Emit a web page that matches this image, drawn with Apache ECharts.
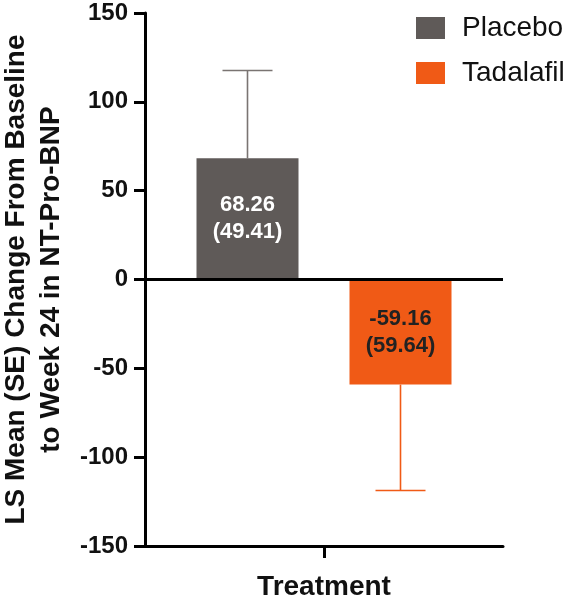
<!DOCTYPE html>
<html>
<head>
<meta charset="utf-8">
<script src="https://cdn.jsdelivr.net/npm/echarts@6/dist/echarts.min.js"></script>
<style>html,body{margin:0;padding:0;background:#fff}#c{width:566px;height:602px}</style>
</head>
<body>
<div id="c"></div>
<script>
const categories = ['Treatment'];
const seriesNames = ['Placebo', 'Tadalafil'];
const placeboMean = [68.26];
const placeboSE = [49.41];
const tadalafilMean = [-59.16];
const tadalafilSE = [59.64];
const yTicks = [-150, -100, -50, 0, 50, 100, 150];

const FONT = 'Liberation Sans';
const BAR_W = 102;
const GAP = 51;
const OFF = (BAR_W + GAP) / 2;
const CAP = 50;

function errSeries(name, means, ses, dir, color, off) {
  return {
    name: name + ' SE',
    type: 'custom',
    silent: true,
    z: 1,
    data: means.map((m, i) => [i, m, m + dir * ses[i]]),
    renderItem: function (params, api) {
      const p0 = api.coord([api.value(0), api.value(1)]);
      const p1 = api.coord([api.value(0), api.value(2)]);
      const x = p0[0] + off;
      return {
        type: 'group',
        children: [
          { type: 'line', shape: { x1: x, y1: p0[1], x2: x, y2: p1[1] }, style: { stroke: color, lineWidth: 1.6 } },
          { type: 'line', shape: { x1: x - CAP / 2, y1: p1[1], x2: x + CAP / 2, y2: p1[1] }, style: { stroke: color, lineWidth: 1.6 } }
        ]
      };
    }
  };
}

const chart = echarts.init(document.getElementById('c'));
chart.setOption({
  animation: false,
  backgroundColor: '#fff',
  textStyle: { fontFamily: FONT },
  grid: { left: 145, right: 63, top: 13, bottom: 56, containLabel: false, outerBoundsMode: 'none' },
  legend: {
    data: seriesNames,
    orient: 'vertical',
    left: 411,
    top: 8,
    itemWidth: 29,
    itemHeight: 22,
    itemGap: 15,
    icon: 'rect',
    textStyle: { fontSize: 28, color: '#111', fontFamily: FONT, padding: [0, 0, 0, 12], lineHeight: 30 }
  },
  xAxis: {
    type: 'category',
    data: categories,
    axisLine: { onZero: false, lineStyle: { color: '#000', width: 3 } },
    axisTick: { show: true, alignWithLabel: true, length: 12, lineStyle: { color: '#000', width: 3 } },
    axisLabel: { fontSize: 28, fontWeight: 'bold', color: '#111', margin: 27, fontFamily: FONT },
    splitLine: { show: false }
  },
  yAxis: {
    type: 'value',
    min: yTicks[0],
    max: yTicks[yTicks.length - 1],
    interval: 50,
    name: 'LS Mean (SE) Change From Baseline\nto Week 24 in NT-Pro-BNP',
    nameLocation: 'middle',
    nameRotate: 90,
    nameGap: 76,
    nameTextStyle: { fontSize: 28, fontWeight: 'bold', color: '#111', lineHeight: 35, fontFamily: FONT },
    axisLine: { show: true, lineStyle: { color: '#000', width: 3 } },
    axisTick: { show: true, length: 11, lineStyle: { color: '#000', width: 3 } },
    axisLabel: { fontSize: 24, fontWeight: 'bold', color: '#111', margin: 17, fontFamily: FONT },
    splitLine: { show: false }
  },
  series: [
    {
      name: seriesNames[0],
      type: 'bar',
      data: placeboMean,
      barWidth: BAR_W,
      barGap: '50%',
      z: 2,
      itemStyle: { color: '#5f5a58' },
      label: {
        show: true, position: 'inside', color: '#fff', fontSize: 22, fontWeight: 'bold', lineHeight: 27, fontFamily: FONT,
        formatter: p => p.value.toFixed(2) + '\n(' + placeboSE[p.dataIndex].toFixed(2) + ')'
      },
      markLine: {
        silent: true, symbol: 'none', label: { show: false },
        lineStyle: { color: '#000', width: 3, type: 'solid' },
        data: [{ yAxis: 0 }]
      }
    },
    {
      name: seriesNames[1],
      type: 'bar',
      data: tadalafilMean,
      barWidth: BAR_W,
      z: 2,
      itemStyle: { color: '#f05a16' },
      label: {
        show: true, position: 'inside', color: '#222', fontSize: 22, fontWeight: 'bold', lineHeight: 27, fontFamily: FONT,
        formatter: p => p.value.toFixed(2) + '\n(' + tadalafilSE[p.dataIndex].toFixed(2) + ')'
      }
    },
    errSeries(seriesNames[0], placeboMean, placeboSE, 1, '#7a7472', -OFF),
    errSeries(seriesNames[1], tadalafilMean, tadalafilSE, -1, '#f05a16', OFF)
  ]
});
</script>
</body>
</html>
